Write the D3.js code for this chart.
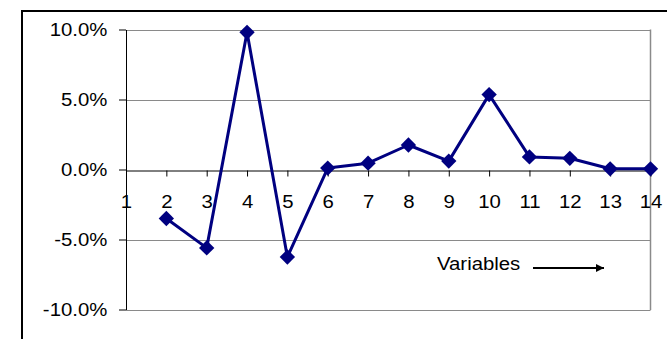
<!DOCTYPE html>
<html>
<head>
<meta charset="utf-8">
<script src="https://cdn.jsdelivr.net/npm/d3@7/dist/d3.min.js"></script>
<style>
  html, body { margin: 0; padding: 0; background: #fff; }
  svg { display: block; }
  text { font-family: "Liberation Sans", Arial, sans-serif; fill: #000; }
</style>
</head>
<body>
<svg id="chart" width="667" height="339"></svg>
<script>
// Variable index along the x axis (first one has no value)
const categories = [1, 2, 3, 4, 5, 6, 7, 8, 9, 10, 11, 12, 13, 14];
// Percentage change per variable
const values = [null, -3.5, -5.6, 9.8, -6.25, 0.1, 0.45, 1.75, 0.6, 5.35, 0.9, 0.8, 0.05, 0.05];
// Value axis ticks and their labels
const yTicks = [10, 5, 0, -5, -10];
const yTickLabels = ["10.0%", "5.0%", "0.0%", "-5.0%", "-10.0%"];
const axisTitle = "Variables";

const svg = d3.select("#chart");

const plot = { left: 126, right: 650.5, top: 29.5, bottom: 309.5 };

const x = d3.scaleLinear().domain([1, 14]).range([plot.left, plot.right]);
const y = d3.scaleLinear().domain([-10, 10]).range([plot.bottom, plot.top]);

// Outer chart frame (continues past the right and bottom edges)
svg.append("path")
  .attr("d", "M22,340 L22,11 L668,11")
  .attr("fill", "none")
  .attr("stroke", "#000")
  .attr("stroke-width", 2);

// Horizontal gridlines
svg.append("g")
  .selectAll("line")
  .data(yTicks.filter(t => t !== 0))
  .join("line")
  .attr("x1", plot.left).attr("x2", plot.right)
  .attr("y1", d => Math.round(y(d)) + 0.5).attr("y2", d => Math.round(y(d)) + 0.5)
  .attr("stroke", "#8a8a8a")
  .attr("stroke-width", 1);

// Right edge of plot area
svg.append("line")
  .attr("x1", plot.right).attr("x2", plot.right)
  .attr("y1", plot.top).attr("y2", plot.bottom + 0.5)
  .attr("stroke", "#8a8a8a")
  .attr("stroke-width", 1.5);

// Y axis
const yAxis = svg.append("g")
  .attr("transform", `translate(${plot.left},0)`)
  .call(d3.axisLeft(y)
    .tickValues(yTicks)
    .tickFormat((d, i) => yTickLabels[i])
    .tickSize(7)
    .tickSizeOuter(0)
    .tickPadding(10));
yAxis.select(".domain").attr("stroke", "#000");
yAxis.selectAll(".tick line").attr("stroke", "#000");
yAxis.selectAll(".tick text")
  .attr("font-size", 18.5)
  .attr("transform", "scale(1.1,1)")
  .attr("font-family", "Liberation Sans, Arial, sans-serif");

// X axis at zero
const xAxis = svg.append("g")
  .attr("transform", `translate(0,${Math.round(y(0)) + 0.5})`)
  .call(d3.axisBottom(x)
    .tickValues(categories)
    .tickFormat(d3.format("d"))
    .tickSize(6)
    .tickSizeOuter(0)
    .tickPadding(18));
xAxis.select(".domain").attr("stroke", "#000");
xAxis.selectAll(".tick line").attr("stroke", "#000");
xAxis.selectAll(".tick text")
  .attr("font-size", 18.5)
  .attr("transform", "scale(1.1,1)")
  .attr("font-family", "Liberation Sans, Arial, sans-serif");

// Series line
const line = d3.line()
  .defined(d => d.v !== null)
  .x(d => x(d.c))
  .y(d => y(d.v));

const series = categories.map((c, i) => ({ c, v: values[i] }));

svg.append("path")
  .datum(series)
  .attr("d", line)
  .attr("fill", "none")
  .attr("stroke", "#000080")
  .attr("stroke-width", 3)
  .attr("stroke-linejoin", "round");

// Diamond markers
const diamond = d3.symbol().type(d3.symbolDiamond2).size(150);
svg.append("g")
  .selectAll("path")
  .data(series.filter(d => d.v !== null))
  .join("path")
  .attr("d", diamond)
  .attr("transform", d => `translate(${x(d.c)},${y(d.v)})`)
  .attr("fill", "#000080");

// Axis title with arrow
svg.append("text")
  .attr("x", 437 / 1.1)
  .attr("y", 270)
  .attr("font-size", 18.5)
  .attr("transform", "scale(1.1,1)")
  .text(axisTitle);

svg.append("defs").append("marker")
  .attr("id", "arrowhead")
  .attr("viewBox", "0 0 10 10")
  .attr("refX", 10).attr("refY", 5)
  .attr("markerWidth", 4.5).attr("markerHeight", 4)
  .attr("orient", "auto")
  .append("path")
  .attr("d", "M0,0 L10,5 L0,10 Z")
  .attr("fill", "#000");

svg.append("line")
  .attr("x1", 533).attr("x2", 604)
  .attr("y1", 268).attr("y2", 268)
  .attr("stroke", "#000")
  .attr("stroke-width", 2)
  .attr("marker-end", "url(#arrowhead)");
</script>
</body>
</html>
